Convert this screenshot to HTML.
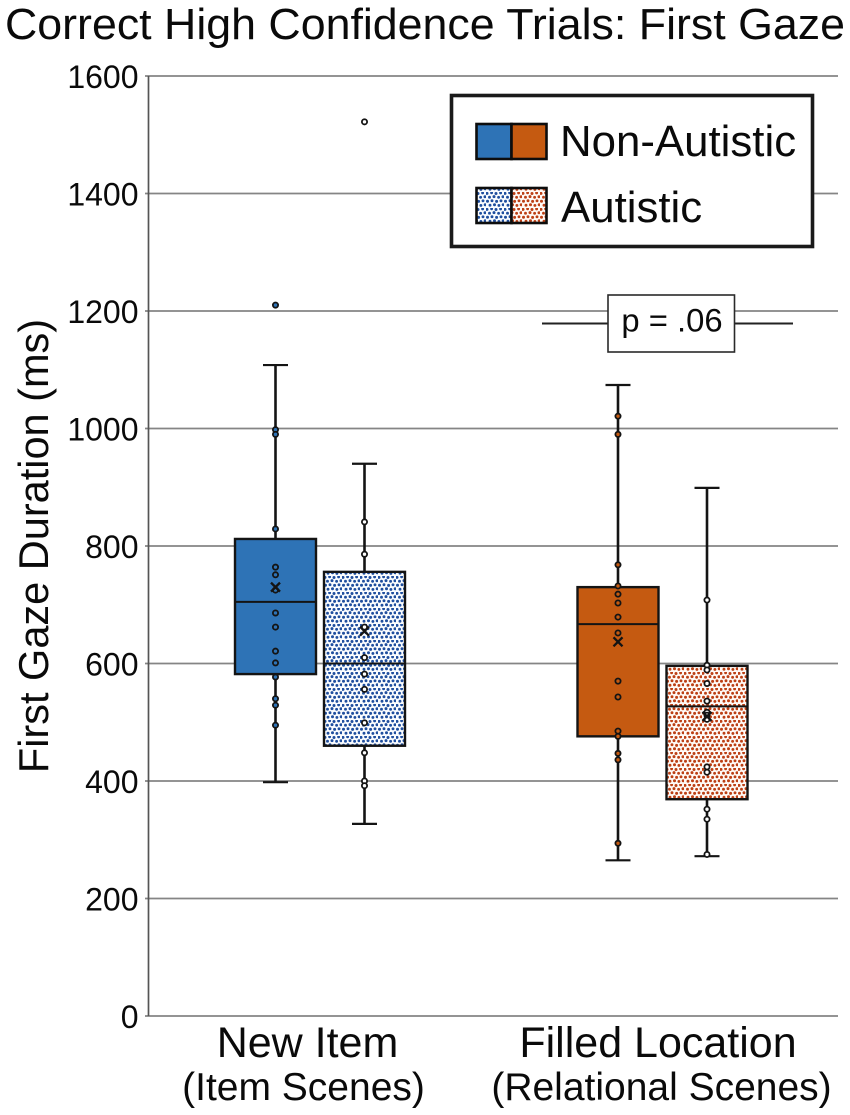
<!DOCTYPE html>
<html>
<head>
<meta charset="utf-8">
<style>
html,body{margin:0;padding:0;background:#fff;}
svg{display:block;font-family:"Liberation Sans",Arial,sans-serif;}
</style>
</head>
<body>
<svg id="chart" width="850" height="1115" viewBox="0 0 850 1115" xmlns="http://www.w3.org/2000/svg">
<defs>
<g id="dot-tile">
<circle cx="1" cy="1.4" r="1.5"/><circle cx="5.6" cy="0.8" r="1.45"/><circle cx="10" cy="1.5" r="1.5"/><circle cx="14.6" cy="0.9" r="1.45"/>
<circle cx="3.5" cy="5.2" r="1.45"/><circle cx="8" cy="4.6" r="1.5"/><circle cx="12.6" cy="5.3" r="1.45"/><circle cx="17" cy="4.7" r="1.5"/>
<circle cx="1.5" cy="9.2" r="1.5"/><circle cx="6" cy="8.7" r="1.45"/><circle cx="10.6" cy="9.4" r="1.5"/><circle cx="15" cy="8.8" r="1.45"/>
<circle cx="4" cy="13.2" r="1.45"/><circle cx="8.5" cy="12.7" r="1.5"/><circle cx="12.9" cy="13.4" r="1.45"/><circle cx="17.2" cy="12.8" r="1.5"/>
</g>
<pattern id="dots-blue" width="18" height="16" patternUnits="userSpaceOnUse">
<rect width="18" height="16" fill="#fbfdff"/>
<use href="#dot-tile" fill="#1f4e9e"/>
</pattern>
<pattern id="dots-orange" width="18" height="16" patternUnits="userSpaceOnUse">
<rect width="18" height="16" fill="#fffaf6"/>
<use href="#dot-tile" fill="#bc3f14"/>
</pattern>
</defs>
<text x="5" y="39" font-size="43.8" textLength="840" lengthAdjust="spacingAndGlyphs" fill="#0a0a0a">Correct High Confidence Trials: First Gaze</text>
<text transform="translate(48,546) rotate(-90)" text-anchor="middle" font-size="41.5" fill="#0a0a0a">First Gaze Duration (ms)</text>
<g id="axis-layer"></g>
<g id="box-layer"></g>
<g text-anchor="middle" fill="#0a0a0a">
<text x="307.5" y="1057" font-size="43">New Item</text>
<text x="303.5" y="1100" font-size="39">(Item Scenes)</text>
<text x="658" y="1057" font-size="43">Filled Location</text>
<text x="661.5" y="1100" font-size="39">(Relational Scenes)</text>
</g>
<g>
<line x1="542" y1="323.5" x2="793" y2="323.5" stroke="#222" stroke-width="2"/>
<rect x="608" y="295" width="126.5" height="57" fill="#fff" stroke="#2a2a2a" stroke-width="1.6"/>
<text x="672" y="331.5" text-anchor="middle" font-size="32.8" fill="#0a0a0a">p = .06</text>
</g>
<g>
<rect x="451.5" y="95.5" width="361" height="151" fill="#fff" stroke="#1a1a1a" stroke-width="3.6"/>
<g stroke="#0d0d0d" stroke-width="2.6">
<rect x="476.5" y="124" width="35" height="35" fill="#2e73b6"/>
<rect x="511.5" y="124" width="35" height="35" fill="#c55a11"/>
<rect x="476.5" y="188" width="35" height="35" fill="url(#dots-blue)"/>
<rect x="511.5" y="188" width="35" height="35" fill="url(#dots-orange)"/>
</g>
<text x="560" y="156" font-size="43.8" fill="#0a0a0a">Non-Autistic</text>
<text x="561" y="222" font-size="43.8" fill="#0a0a0a">Autistic</text>
</g>
</svg>
<script>
var yTicks = [0, 200, 400, 600, 800, 1000, 1200, 1400, 1600];
var groupNames = ['new-item-non-autistic', 'new-item-autistic', 'filled-location-non-autistic', 'filled-location-autistic'];
var slotIndex = [0, 1, 2, 3];
var whiskerHigh = [1108, 940, 1074, 899];
var whiskerLow = [398, 327, 265, 272];
var q3Values = [812, 756, 730, 596];
var q1Values = [582, 460, 476, 369];
var medians = [705, 600, 667, 527];
var means = [730, 655, 637, 510];
var points0 = [1210, 998, 990, 829, 764, 751, 725, 686, 662, 621, 601, 577, 540, 529, 495];
var points1 = [1522, 841, 786, 662, 610, 582, 556, 499, 448, 400, 392];
var points2 = [1021, 990, 768, 732, 718, 703, 679, 652, 570, 543, 485, 476, 447, 436, 294];
var points3 = [708, 597, 589, 566, 536, 517, 512, 505, 424, 415, 352, 335, 275];
var allPoints = [points0, points1, points2, points3];

var NS = 'http://www.w3.org/2000/svg';
var axisLayer = document.getElementById('axis-layer');
var boxLayer = document.getElementById('box-layer');

function yScale(v) { return 1016 - v * (940 / 1600); }
function xScale(slot) { return [275.5, 364.5, 618, 707][slot]; }
function make(tag, attrs, parent) {
  var n = document.createElementNS(NS, tag);
  for (var k in attrs) n.setAttribute(k, attrs[k]);
  parent.appendChild(n);
  return n;
}

yTicks.forEach(function (t) {
  var y = yScale(t);
  var grid = make('line', { x1: 145, x2: 838, y1: y, y2: y, stroke: '#858585', 'stroke-width': 1.7 }, axisLayer);
  
  
  var label = make('text', { x: 138.5, y: y + 12, 'text-anchor': 'end', 'font-size': 32, fill: '#0a0a0a' }, axisLayer);
  label.textContent = String(t);
  
  
});
var axisLine = make('line', { x1: 148.5, x2: 148.5, y1: yScale(1600), y2: yScale(0), stroke: '#555', 'stroke-width': 1.7 }, axisLayer);



var fills = ['#2e73b6', 'url(#dots-blue)', '#c55a11', 'url(#dots-orange)'];
var pointFills = ['#2e73b6', '#ffffff', '#c55a11', '#ffffff'];
var halfWidth = 40.5;
var capHalf = 12.5;

slotIndex.forEach(function (i) {
  var cx = xScale(i);
  var g = make('g', {}, boxLayer);
  
  

  var whisker = make('line', { x1: cx, x2: cx, y1: yScale(whiskerHigh[i]), y2: yScale(whiskerLow[i]), stroke: '#141414', 'stroke-width': 2.6 }, g);
  
  

  var capTop = make('line', { x1: cx - capHalf, x2: cx + capHalf, y1: yScale(whiskerHigh[i]), y2: yScale(whiskerHigh[i]), stroke: '#141414', 'stroke-width': 2.2 }, g);
  
  

  var capLow = make('line', { x1: cx - capHalf, x2: cx + capHalf, y1: yScale(whiskerLow[i]), y2: yScale(whiskerLow[i]), stroke: '#141414', 'stroke-width': 2.2 }, g);
  
  

  var box = make('rect', { x: cx - halfWidth, width: halfWidth * 2, y: yScale(q3Values[i]), height: yScale(q1Values[i]) - yScale(q3Values[i]), fill: fills[i], stroke: '#141414', 'stroke-width': 2.4 }, g);
  
  

  var median = make('line', { x1: cx - halfWidth, x2: cx + halfWidth, y1: yScale(medians[i]), y2: yScale(medians[i]), stroke: '#141414', 'stroke-width': 2 }, g);
  
  

  allPoints[i].forEach(function (v) {
    var p = make('circle', { cx: cx, cy: yScale(v), r: 2.6, fill: pointFills[i], stroke: '#141414', 'stroke-width': 1.8 }, g);
    
    
  });

  var my = yScale(means[i]);
  var mean = make('path', { d: 'M' + (cx - 4.5) + ' ' + (my - 4.5) + 'L' + (cx + 4.5) + ' ' + (my + 4.5) + 'M' + (cx + 4.5) + ' ' + (my - 4.5) + 'L' + (cx - 4.5) + ' ' + (my + 4.5), stroke: '#141414', 'stroke-width': 2.3, fill: 'none' }, g);
  
  
});
</script>
</body>
</html>
